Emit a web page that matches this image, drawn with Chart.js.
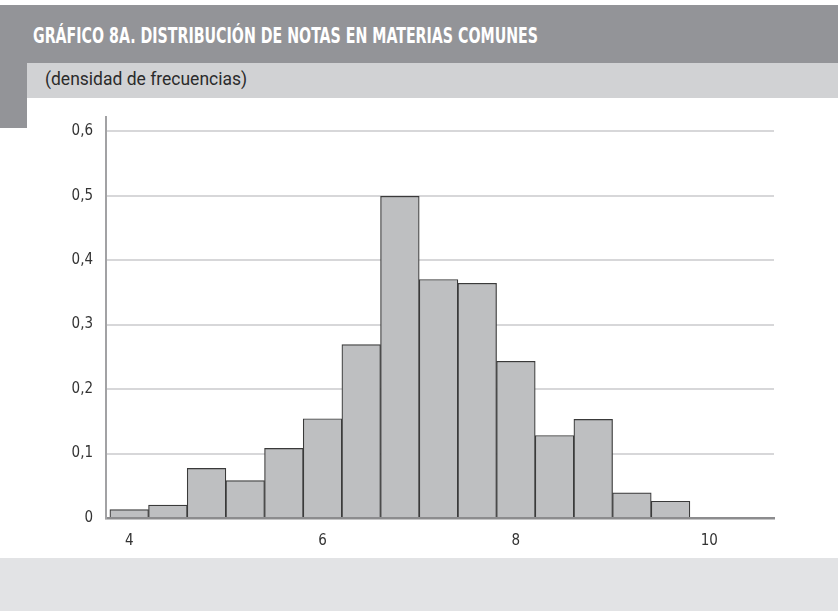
<!DOCTYPE html>
<html>
<head>
<meta charset="utf-8">
<script src="https://cdn.jsdelivr.net/npm/chart.js@4"></script>
<style>
  body { margin: 0; width: 838px; height: 611px; position: relative; background: #fff; overflow: hidden; }
  .band { position: absolute; }
  #title { left: 0; top: 5px; width: 838px; height: 58px; background: #939498; }
  #title span { position: absolute; left: 33px; top: 18px; color: #fff; font: bold 22px "DejaVu Sans Condensed", sans-serif; transform-origin: 0 0; white-space: nowrap; }
  #sub { left: 27px; top: 63px; width: 811px; height: 35px; background: #d1d2d4; }
  #sub span { position: absolute; left: 18px; top: 6px; color: #2b2b2b; font: 17.5px Roboto, sans-serif; }
  #stub { left: 0; top: 63px; width: 27px; height: 65px; background: #939498; }
  #foot { left: 0; top: 558px; width: 838px; height: 53px; background: #e2e3e5; }
  #wrap { position: absolute; left: 0; top: 95px; width: 838px; height: 463px; }
</style>
</head>
<body>
<div class="band" id="title"><span id="titleText">GRÁFICO 8A. DISTRIBUCIÓN DE NOTAS EN MATERIAS COMUNES</span></div>
<div class="band" id="stub"></div>
<div class="band" id="sub"><span>(densidad de frecuencias)</span></div>
<div class="band" id="foot"></div>
<div id="wrap"><canvas id="chart"></canvas></div>
<script>
// bin centres (width 0.4) and frequency density
const binCenters = [4.0, 4.4, 4.8, 5.2, 5.6, 6.0, 6.4, 6.8, 7.2, 7.6, 8.0, 8.4, 8.8, 9.2, 9.6];
const density = [0.013, 0.020, 0.077, 0.058, 0.108, 0.154, 0.269, 0.499, 0.370, 0.364, 0.243, 0.128, 0.153, 0.039, 0.026];
const xTicks = [4, 6, 8, 10];
const yTicks = [0, 0.1, 0.2, 0.3, 0.4, 0.5, 0.6];

// squeeze the title into the condensed width of the original
const t = document.getElementById("titleText");
t.style.transform = "scaleX(" + (505 / t.getBoundingClientRect().width) + ")";

const tickFont = {size: 15, family: "'DejaVu Sans Condensed', sans-serif"};

const ctx = document.getElementById("chart").getContext("2d");
new Chart(ctx, {
    type: "bar",
    data: {
        datasets: [
            {
                data: binCenters.map((x, i) => ({x: x, y: density[i]})),
                backgroundColor: "#bebfc1",
                borderColor: "#3a3a3a",
                borderWidth: 1.2,
                barPercentage: 1,
                categoryPercentage: 1,
            },
        ],
    },
    options: {
        responsive: true,
        maintainAspectRatio: false,
        animation: false,
        layout: {padding: {top: 11, right: 64, left: 0, bottom: 0}},
        plugins: {
            legend: {display: false},
            tooltip: {enabled: false},
        },
        scales: {
            x: {
                type: "linear",
                offset: false,
                min: 3.76,
                max: 10.67,
                afterFit: s => { s.height = 40; },
                afterBuildTicks: s => { s.ticks = xTicks.map(v => ({value: v})); },
                grid: {display: false, drawTicks: false},
                border: {display: true, color: "#8c8c8e", width: 2.5},
                ticks: {
                    padding: 14,
                    color: "#333",
                    font: tickFont,
                    maxRotation: 0,
                },
            },
            y: {
                min: 0,
                max: 0.622,
                afterFit: s => { s.width = 106; },
                afterBuildTicks: s => { s.ticks = yTicks.map(v => ({value: v})); },
                grid: {color: "#d7d7d9", lineWidth: 2, drawTicks: false},
                border: {display: true, color: "#a2a2a4", width: 2},
                ticks: {
                    padding: 13,
                    color: "#333",
                    font: tickFont,
                    callback: v => v === 0 ? "0" : v.toFixed(1).replace(".", ","),
                },
            },
        },
    },
})
</script>
</body>
</html>
